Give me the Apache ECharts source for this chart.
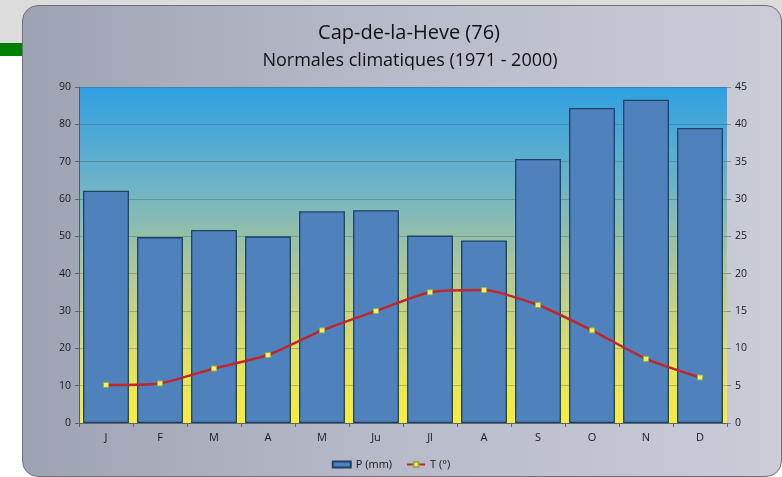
<!DOCTYPE html>
<html>
<head>
<meta charset="utf-8">
<script src="https://cdn.jsdelivr.net/npm/echarts@6/dist/echarts.min.js"></script>
<style>
  html, body { margin: 0; padding: 0; width: 782px; height: 477px; overflow: hidden; background: #ffffff; }
  #topstrip { position: absolute; left: 0; top: 0; width: 782px; height: 43px; background: #dcdcdc; }
  #greenbar { position: absolute; left: 0; top: 43px; width: 30px; height: 13px; background: #008000; }
  #card { position: absolute; left: 22px; top: 5px; width: 758px; height: 470px; border: 1px solid #6e717c;
          border-radius: 16px; background: linear-gradient(to right, #9ea3b3 0%, #b6b9c7 45%, #cacdd8 100%); }
  #chart { position: absolute; left: 0; top: 0; width: 782px; height: 477px; }
</style>
</head>
<body>
<div id="topstrip"></div>
<div id="greenbar"></div>
<div id="card"></div>
<div id="chart"></div>
<script>
const months = ['J', 'F', 'M', 'A', 'M', 'Ju', 'Jl', 'A', 'S', 'O', 'N', 'D'];
const precipitation = [62.2, 49.8, 51.7, 50.0, 56.7, 57.0, 50.2, 48.9, 70.7, 84.4, 86.6, 79.0];
const temperature = [5.1, 5.3, 7.3, 9.1, 12.4, 15.0, 17.5, 17.8, 15.8, 12.4, 8.6, 6.1];
const leftTicks = [0, 10, 20, 30, 40, 50, 60, 70, 80, 90];
const rightTicks = [0, 5, 10, 15, 20, 25, 30, 35, 40, 45];
const titleText = 'Cap-de-la-Heve (76)';
const subtitleText = 'Normales climatiques (1971 - 2000)';
const seriesNames = ['P (mm)', 'T (°)'];

const chart = echarts.init(document.getElementById('chart'), null, { renderer: 'canvas' });
const font = '"Open Sans", "DejaVu Sans", sans-serif';
chart.setOption({
  backgroundColor: 'transparent',
  animation: false,
  title: [
    { text: titleText, left: 404, top: 18, textAlign: 'center',
      textStyle: { fontFamily: font, fontSize: 20, fontWeight: 'normal', color: '#111' } },
    { text: subtitleText, left: 405, top: 47, textAlign: 'center',
      textStyle: { fontFamily: font, fontSize: 18, fontWeight: 'normal', color: '#111' } }
  ],
  legend: {
    data: [
      { name: seriesNames[0], icon: 'rect' },
      { name: seriesNames[1] }
    ],
    left: 'center', top: 454, itemWidth: 18, itemHeight: 6, itemGap: 14,
    textStyle: { fontFamily: font, fontSize: 11, color: '#1a1a1a' }
  },
  grid: {
    left: 79, top: 87, width: 648, height: 336, show: true, borderWidth: 0,
    backgroundColor: new echarts.graphic.LinearGradient(0, 0, 0, 1, [
      { offset: 0, color: '#2f9fe2' },
      { offset: 0.3, color: '#6fb4c6' },
      { offset: 0.58, color: '#b8cb8e' },
      { offset: 0.82, color: '#e4e25c' },
      { offset: 1, color: '#fbec3a' }
    ])
  },
  xAxis: {
    type: 'category', data: months,
    axisLine: { show: true, lineStyle: { color: '#5c6470', width: 1 } },
    axisTick: { show: true, alignWithLabel: false, length: 4, lineStyle: { color: '#5c6470' } },
    axisLabel: { fontFamily: font, fontSize: 11, color: '#1a1a1a', margin: 9 }
  },
  yAxis: [
    { type: 'value', min: leftTicks[0], max: leftTicks[leftTicks.length - 1], interval: 10,
      axisLine: { show: true, lineStyle: { color: '#4a6070', width: 1 } },
      axisTick: { show: true, length: 4, lineStyle: { color: '#5c6470' } },
      axisLabel: { fontFamily: font, fontSize: 10.5, color: '#1a1a1a', margin: 8 },
      splitLine: { show: true, lineStyle: { color: 'rgba(70,85,70,0.32)', width: 1 } } },
    { type: 'value', min: rightTicks[0], max: rightTicks[rightTicks.length - 1], interval: 5,
      axisLine: { show: false },
      axisTick: { show: true, length: 4, lineStyle: { color: '#8a8e90' } },
      axisLabel: { fontFamily: font, fontSize: 10.5, color: '#1a1a1a', margin: 8 },
      splitLine: { show: false } }
  ],
  series: [
    { name: seriesNames[0], type: 'bar', data: precipitation, yAxisIndex: 0,
      barCategoryGap: '15%',
      itemStyle: { color: '#4f81bd', borderColor: '#1d4268', borderWidth: 1.3 } },
    { name: seriesNames[1], type: 'line', data: temperature, yAxisIndex: 1,
      smooth: 0.2, symbol: 'rect', symbolSize: 5, z: 5,
      lineStyle: { color: '#c0262d', width: 2.5 },
      itemStyle: { color: '#eef26a', borderColor: '#9cb040', borderWidth: 1 } }
  ]
});
</script>
</body>
</html>
